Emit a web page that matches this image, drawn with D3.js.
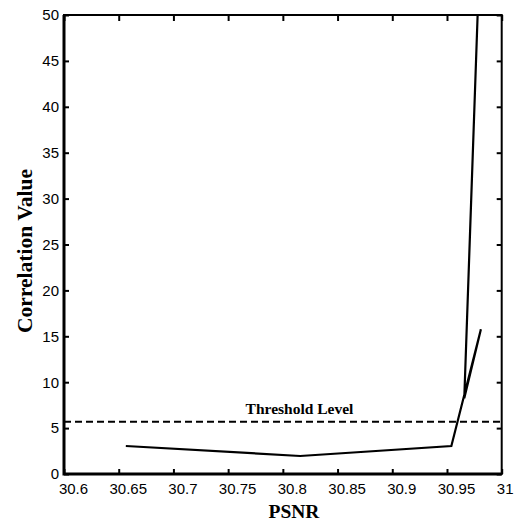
<!DOCTYPE html>
<html>
<head>
<meta charset="utf-8">
<script src="https://cdn.jsdelivr.net/npm/d3@7"></script>
<style>
body { margin: 0; background: #fff; }
</style>
</head>
<body>
<script>
var w = 514;
var h = 529;

// curve, in the order it was plotted
var psnr = [30.6565, 30.8158, 30.954, 30.981, 30.9658, 30.978];
var corr = [3.05, 1.96, 3.05, 15.76, 8.25, 50];

var threshold = 5.7;
var xTicks = [30.6, 30.65, 30.7, 30.75, 30.8, 30.85, 30.9, 30.95, 31];
var yTicks = [0, 5, 10, 15, 20, 25, 30, 35, 40, 45, 50];

var pLeft = 64, pRight = 501.7, pTop = 15, pBottom = 474;
var serif = "'Liberation Serif', 'Times New Roman', serif";

var svg = d3.select("body").append("svg").attr("width", w).attr("height", h);

var x = d3.scaleLinear().domain([30.6, 31]).range([pLeft, pRight]);
var y = d3.scaleLinear().domain([0, 50]).range([pBottom, pTop]);

svg.append("clipPath").attr("id", "plot")
  .append("rect").attr("x", pLeft).attr("y", pTop)
  .attr("width", pRight - pLeft).attr("height", pBottom - pTop);

// axes: ticks pointing inward, on all four sides
var fmt = function(d){ return String(+d.toFixed(2)); };

var xb = svg.append("g").attr("transform", "translate(0," + pBottom + ")")
  .call(d3.axisBottom(x).tickValues(xTicks).tickSizeInner(-5).tickSizeOuter(0).tickFormat(fmt));
xb.selectAll("text").attr("y", 9).attr("dy", "0.71em")
  .attr("dx", function(d, i){ return i == xTicks.length - 1 ? 3 : 9; });

svg.append("g").attr("transform", "translate(0," + pTop + ")")
  .call(d3.axisTop(x).tickValues(xTicks).tickSizeInner(-6).tickSizeOuter(0).tickFormat(""));

var yl = svg.append("g").attr("transform", "translate(" + pLeft + ",0)")
  .call(d3.axisLeft(y).tickValues(yTicks).tickSizeInner(-5).tickSizeOuter(0));
yl.selectAll("text").attr("x", -5);

svg.append("g").attr("transform", "translate(" + pRight + ",0)")
  .call(d3.axisRight(y).tickValues(yTicks).tickSizeInner(-5).tickSizeOuter(0).tickFormat(""));

svg.selectAll(".domain").remove();
svg.selectAll(".tick line").attr("stroke", "#000").attr("stroke-width", 2);
svg.selectAll(".tick text")
  .attr("fill", "#000")
  .style("font-family", "'Liberation Sans', Arial, sans-serif")
  .style("font-size", "15px");

// frame
svg.append("rect").attr("x", pLeft).attr("y", pTop)
  .attr("width", pRight - pLeft).attr("height", pBottom - pTop)
  .attr("fill", "none").attr("stroke", "#000").attr("stroke-width", 2);
svg.append("path")
  .attr("d", "M" + pLeft + "," + pTop + "V" + pBottom + "H" + pRight)
  .attr("fill", "none").attr("stroke", "#000").attr("stroke-width", 3);

// threshold
svg.append("line")
  .attr("x1", x(30.6)).attr("x2", x(31))
  .attr("y1", y(threshold)).attr("y2", y(threshold))
  .attr("stroke", "#000").attr("stroke-width", 2)
  .attr("stroke-dasharray", "7,4");

svg.append("text")
  .attr("x", 299.5).attr("y", 413.5)
  .attr("text-anchor", "middle")
  .style("font-family", serif)
  .style("font-weight", "bold")
  .style("font-size", "15.5px")
  .text("Threshold Level");

// data line
var line = d3.line()
  .x(function(d, i){ return x(psnr[i]); })
  .y(function(d){ return y(d); });

svg.append("path")
  .datum(corr)
  .attr("d", line)
  .attr("clip-path", "url(#plot)")
  .attr("fill", "none")
  .attr("stroke", "#000")
  .attr("stroke-width", 2.2)
  .attr("stroke-linejoin", "miter");

// axis titles
svg.append("text")
  .attr("x", 294).attr("y", 518)
  .attr("text-anchor", "middle")
  .style("font-family", serif)
  .style("font-weight", "bold")
  .style("font-size", "19.5px")
  .text("PSNR");

svg.append("text")
  .attr("transform", "translate(32,251) rotate(-90)")
  .attr("text-anchor", "middle")
  .style("font-family", serif)
  .style("font-weight", "bold")
  .style("font-size", "21.5px")
  .text("Correlation Value");
</script>
</body>
</html>
